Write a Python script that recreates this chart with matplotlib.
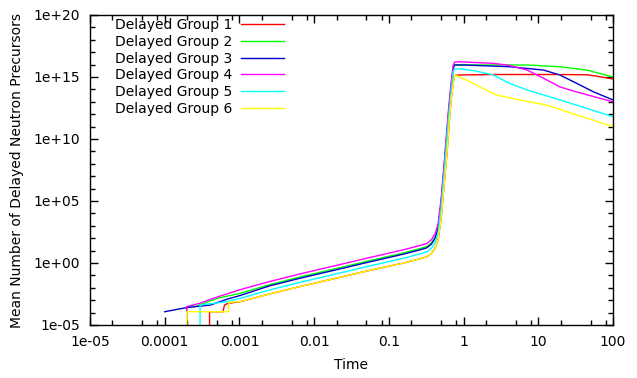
import numpy as np
import matplotlib
matplotlib.use('Agg')
import matplotlib.pyplot as plt
from matplotlib.ticker import FixedLocator, NullFormatter

# values, stored as log10(time) / log10(count)
# a value of -10 is below the axis: it draws the vertical rise from the bottom
g1_logt = [-3.40, -3.40, -3.22, -3.20, -3.15, -2.99, -2.60, -2.19, -1.65, -1.30, -0.80, -0.58, -0.49, -0.43, -0.38, -0.34, -0.30, -0.26, -0.22, -0.19, -0.16, -0.125, -0.10, 0.40, 1.29, 1.65, 1.80, 2.00]
g1_logn = [-10.0, -3.93, -3.93, -3.39, -3.25, -3.12, -2.50, -1.90, -1.15, -0.65, 0.00, 0.35, 0.50, 0.78, 1.20, 1.90, 3.60, 6.30, 9.00, 11.5, 13.5, 15.10, 15.16, 15.20, 15.20, 15.18, 15.05, 14.84]

g2_logt = [-3.706, -3.706, -3.57, -3.30, -2.99, -2.60, -2.19, -1.65, -1.30, -0.80, -0.58, -0.49, -0.43, -0.38, -0.34, -0.30, -0.26, -0.234, -0.20, -0.171, -0.14, -0.12, 0.00, 0.85, 1.29, 1.65, 2.00]
g2_logn = [-10.0, -3.55, -3.47, -2.85, -2.45, -1.75, -1.13, -0.37, 0.13, 0.82, 1.17, 1.33, 1.63, 2.10, 2.95, 4.95, 7.80, 9.70, 12.2, 14.0, 15.70, 15.97, 15.97, 15.97, 15.83, 15.56, 15.00]

g3_logt = [-4.00, -3.71, -3.39, -3.17, -2.99, -2.60, -2.19, -1.65, -1.30, -0.80, -0.58, -0.49, -0.43, -0.38, -0.34, -0.30, -0.26, -0.234, -0.20, -0.171, -0.14, -0.12, 0.00, 0.61, 1.07, 1.29, 1.51, 1.74, 2.00]
g3_logn = [-3.93, -3.60, -3.39, -2.93, -2.62, -1.85, -1.23, -0.47, 0.03, 0.72, 1.07, 1.23, 1.53, 2.00, 2.85, 4.85, 7.70, 9.60, 12.1, 13.9, 15.70, 15.97, 15.97, 15.83, 15.56, 15.16, 14.50, 13.80, 13.15]

g4_logt = [-3.706, -3.706, -3.53, -3.35, -3.17, -2.99, -2.60, -2.19, -1.65, -1.30, -0.80, -0.58, -0.49, -0.43, -0.38, -0.34, -0.30, -0.26, -0.234, -0.20, -0.171, -0.14, -0.12, -0.05, 0.40, 0.60, 0.85, 1.07, 1.29, 1.51, 2.00]
g4_logn = [-10.0, -3.52, -3.25, -2.85, -2.50, -2.15, -1.50, -0.88, -0.12, 0.38, 1.07, 1.42, 1.58, 1.88, 2.35, 3.20, 5.20, 8.00, 10.0, 12.5, 14.3, 15.90, 16.20, 16.23, 16.10, 15.95, 15.56, 14.90, 14.20, 13.80, 13.00]

g5_logt = [-3.527, -3.527, -3.17, -2.99, -2.60, -2.19, -1.65, -1.30, -0.80, -0.58, -0.49, -0.43, -0.38, -0.34, -0.30, -0.26, -0.234, -0.20, -0.171, -0.14, -0.12, -0.05, 0.15, 0.40, 0.61, 0.85, 1.29, 1.74, 2.00]
g5_logn = [-10.0, -3.39, -3.12, -2.85, -2.18, -1.56, -0.80, -0.30, 0.39, 0.74, 0.90, 1.20, 1.65, 2.50, 4.50, 7.30, 9.30, 11.8, 13.6, 15.40, 15.65, 15.65, 15.50, 15.16, 14.50, 13.95, 13.15, 12.30, 11.80]

g6_logt = [-3.706, -3.706, -3.15, -3.14, -2.99, -2.60, -2.19, -1.65, -1.30, -0.80, -0.58, -0.49, -0.43, -0.38, -0.34, -0.30, -0.26, -0.22, -0.19, -0.16, -0.125, -0.114, 0.04, 0.25, 0.44, 0.71, 1.11, 1.51, 2.00]
g6_logn = [-10.0, -3.93, -3.93, -3.17, -3.12, -2.50, -1.90, -1.15, -0.65, 0.00, 0.35, 0.50, 0.78, 1.20, 1.90, 3.60, 6.30, 9.00, 11.5, 13.5, 15.00, 15.16, 14.76, 14.10, 13.55, 13.20, 12.74, 11.95, 11.00]

groups = [
    ('Delayed Group 1', g1_logt, g1_logn, '#ff0000'),
    ('Delayed Group 2', g2_logt, g2_logn, '#00ff00'),
    ('Delayed Group 3', g3_logt, g3_logn, '#0000c8'),
    ('Delayed Group 4', g4_logt, g4_logn, '#ff00ff'),
    ('Delayed Group 5', g5_logt, g5_logn, '#00ffff'),
    ('Delayed Group 6', g6_logt, g6_logn, '#ffff00'),
]

x_major = [1e-5, 1e-4, 1e-3, 1e-2, 1e-1, 1, 10, 100]
x_labels = ['1e-05', '0.0001', '0.001', '0.01', '0.1', '1', '10', '100']
y_major = [1e-5, 1e0, 1e5, 1e10, 1e15, 1e20]
y_labels = ['1e-05', '1e+00', '1e+05', '1e+10', '1e+15', '1e+20']

plt.rcParams['font.family'] = 'DejaVu Sans'
plt.rcParams['font.size'] = 10

fig = plt.figure(figsize=(6.37, 3.78), dpi=100)
ax = fig.add_axes([90 / 637, 1 - 325 / 378, 523 / 637, 310 / 378])

for label, lt, ln, color in groups:
    ax.plot(10 ** np.array(lt), 10 ** np.array(ln), color=color, lw=1.0, label=label)

ax.set_xscale('log')
ax.set_yscale('log')
ax.set_xlim(1e-5, 100)
ax.set_ylim(1e-5, 1e20)

ax.xaxis.set_major_locator(FixedLocator(x_major))
ax.set_xticklabels(x_labels)
x_minor = [m * d for d in [1e-5, 1e-4, 1e-3, 1e-2, 1e-1, 1, 10] for m in (2, 5, 8)]
ax.xaxis.set_minor_locator(FixedLocator(x_minor))
ax.xaxis.set_minor_formatter(NullFormatter())

ax.yaxis.set_major_locator(FixedLocator(y_major))
ax.set_yticklabels(y_labels)
ax.yaxis.set_minor_locator(FixedLocator([10.0 ** k for k in range(-5, 21)]))
ax.yaxis.set_minor_formatter(NullFormatter())

ax.tick_params(which='both', direction='in', top=True, right=True, width=1.0, labelsize=10)
ax.tick_params(which='major', length=6, pad=7)
ax.tick_params(which='minor', length=3.5)
for s in ax.spines.values():
    s.set_linewidth(1.0)

ax.set_xlabel('Time', fontsize=10, labelpad=7)
ax.set_ylabel('Mean Number of Delayed Neutron Precursors', fontsize=10, labelpad=7)

ax.legend(loc='upper left', bbox_to_anchor=(115 / 637, 1 - 18 / 378), bbox_transform=fig.transFigure,
          frameon=False, markerfirst=False, borderpad=0, borderaxespad=0, handlelength=3.1,
          handletextpad=0.6, labelspacing=0.2, fontsize=10)

fig.savefig('out.png', dpi=100)
